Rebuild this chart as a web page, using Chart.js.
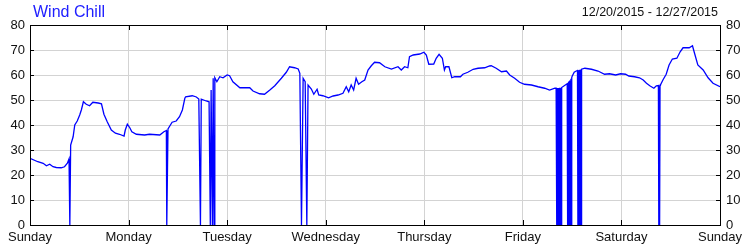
<!DOCTYPE html>
<html>
<head>
<meta charset="utf-8">
<script src="https://cdn.jsdelivr.net/npm/chart.js@4.4.1/dist/chart.umd.min.js"></script>
<style>
  body { margin: 0; background: #fff; }
  #wrap { position: relative; width: 750px; height: 250px; }
  #title { position: absolute; left: 33px; top: 4px; font: 16px "Liberation Sans", Arial, sans-serif; line-height: 16px; color: #2020ff; }
  #range { position: absolute; right: 32px; top: 6px; font: 12.5px "Liberation Sans", Arial, sans-serif; line-height: 13px; color: #111; }
</style>
</head>
<body>
<div id="wrap">
  <canvas id="myChart" width="750" height="250"></canvas>
  <div id="title">Wind Chill</div>
  <div id="range">12/20/2015 - 12/27/2015</div>
</div>
<script>
const dayLabels = ["Sunday", "Monday", "Tuesday", "Wednesday", "Thursday", "Friday", "Saturday", "Sunday"];
const yTicks = [0, 10, 20, 30, 40, 50, 60, 70, 80];

// hours since Sunday 00:00
const hours = [
  0.0, 1.9, 3.2, 4.0, 4.8, 5.6, 6.4, 7.6, 8.4, 9.1, 9.5, 9.7, 9.9, 10.5, 10.9, 11.5, 12.1, 12.5, 13.0, 13.7,
  14.5, 15.3, 16.6, 17.4, 18.0, 18.8, 19.8, 20.8, 21.8, 22.9, 23.2, 23.7, 24.3, 24.8, 25.9, 27.9, 29.1, 31.6, 32.6, 33.2,
  33.3, 33.6, 34.6, 35.6, 36.4, 37.1, 37.7, 37.9, 39.5, 40.5, 41.1, 41.5, 41.7, 42.9, 43.6, 43.9, 44.1, 44.4, 44.6, 44.8,
  45.0, 45.5, 46.2, 47.0, 48.0, 48.6, 49.4, 51.1, 53.5, 54.3, 55.9, 57.1, 58.4, 59.6, 61.2, 62.4, 63.2, 64.4, 65.3, 65.7,
  66.1, 66.5, 67.0, 67.4, 67.7, 68.5, 69.1, 69.9, 70.3, 71.3, 72.7, 73.8, 75.0, 76.2, 77.0, 77.6, 78.2, 78.8, 79.4, 80.0,
  80.8, 81.5, 82.3, 83.1, 83.9, 85.1, 86.4, 88.0, 89.6, 90.4, 91.2, 92.0, 92.4, 93.3, 94.9, 95.9, 96.5, 97.1, 98.3, 98.9,
  99.6, 100.4, 100.9, 101.2, 102.0, 102.7, 103.4, 104.8, 105.4, 106.6, 107.9, 109.1, 110.7, 111.9, 112.3, 113.5, 114.8, 116.0, 116.8, 118.0,
  119.2, 120.4, 122.1, 123.7, 125.3, 126.5, 127.8,
  128.1, 128.2, 128.3, 128.4, 128.5, 128.6, 128.7, 128.8, 128.9, 129.0, 129.1, 129.2, 129.3, 129.4, 129.5,
  130.6, 130.8, 130.9, 131.0, 131.1, 131.2, 131.3, 131.4, 131.5, 131.7, 131.8, 131.9, 132.0,
  132.5, 133.0, 133.3, 133.4, 133.5, 133.6, 133.7, 133.8, 133.9, 134.0, 134.1, 134.2, 134.3,
  135.1, 136.7, 138.3, 139.9, 141.1,
  142.6, 143.8, 145.0, 145.8, 147.2, 148.4, 149.3, 150.1, 150.9, 151.9, 152.5, 153.0, 153.1, 153.2, 153.3, 153.4, 153.5, 154.1, 154.9, 155.6, 156.4,
  157.5, 158.3, 159.0, 160.5, 161.3, 161.8, 162.6, 163.9, 165.1, 166.3, 168.0
];

// wind chill, degrees F
const windChill = [
  26.7, 25.3, 24.7, 23.7, 24.3, 23.3, 23.0, 22.9, 23.3, 24.7, 26.4, 0, 32.0, 35.3, 40.0, 41.6, 44.0, 46.0, 49.3, 48.3,
  47.7, 49.1, 48.8, 48.5, 44.3, 41.3, 38.0, 36.7, 36.3, 35.6, 38.0, 40.3, 38.9, 37.3, 36.3, 36.0, 36.3, 36.0, 37.3, 37.8,
  0, 38.4, 41.1, 41.6, 43.3, 46.0, 50.7, 51.3, 51.7, 51.2, 50.4, 0, 50.3, 49.6, 49.3, 0, 54.0, 0, 58.7, 0,
  58.9, 57.3, 59.3, 58.9, 60.0, 59.7, 57.3, 54.9, 54.9, 53.6, 52.5, 52.3, 54.0, 55.7, 58.7, 61.1, 63.3, 62.9, 62.4, 60.7,
  0, 58.7, 57.3, 0, 56.0, 54.4, 52.3, 54.3, 52.0, 51.7, 50.9, 51.6, 52.0, 52.7, 55.3, 53.3, 56.0, 54.0, 58.7, 56.3,
  57.3, 58.0, 62.0, 63.7, 65.1, 64.9, 63.3, 62.4, 63.3, 62.0, 63.3, 62.9, 67.3, 68.0, 68.4, 69.1, 68.0, 64.3, 64.4, 66.7,
  68.3, 66.7, 62.0, 63.3, 63.3, 58.9, 59.3, 59.3, 60.3, 61.1, 62.3, 62.7, 62.9, 63.6, 63.7, 62.7, 61.3, 61.6, 60.0, 58.7,
  57.1, 56.3, 56.0, 55.3, 54.7, 54.0, 54.7,
  54.7, 0, 54.8, 0, 54.8, 0, 54.8, 0, 54.9, 0, 54.9, 0, 54.9, 0, 55.0,
  56.3, 56.5, 0, 56.9, 0, 57.4, 0, 57.8, 0, 58.5, 0, 59.0, 59.5,
  61.1, 61.6, 61.8, 0, 61.9, 0, 62.0, 0, 62.1, 0, 62.2, 0, 62.3,
  62.7, 62.3, 61.6, 60.3, 60.5,
  60.0, 60.5, 60.3, 59.6, 59.3, 58.9, 58.0, 56.7, 55.7, 54.7, 55.7, 55.8, 0, 55.8, 0, 55.9, 56.0, 58.0, 60.3, 64.0, 66.4,
  66.7, 69.3, 70.9, 70.9, 71.7, 68.7, 64.0, 62.0, 58.9, 56.7, 55.3
];

const tickFont = { family: "'Liberation Sans', Arial, sans-serif", size: 13 };

// black frame with short inward tick marks on all four sides
const framePlugin = {
  id: "frame",
  afterDatasetsDraw(chart) {
    const { ctx, chartArea: a, scales } = chart;
    ctx.save();
    ctx.strokeStyle = "#000";
    ctx.lineWidth = 1;
    ctx.beginPath();
    scales.x.ticks.forEach((t) => {
      const px = Math.round(scales.x.getPixelForValue(t.value)) + 0.5;
      ctx.moveTo(px, a.top);
      ctx.lineTo(px, a.top + 5);
      ctx.moveTo(px, a.bottom);
      ctx.lineTo(px, a.bottom - 5);
    });
    scales.y.ticks.forEach((t) => {
      const py = Math.round(scales.y.getPixelForValue(t.value)) + 0.5;
      ctx.moveTo(a.left, py);
      ctx.lineTo(a.left + 4, py);
      ctx.moveTo(a.right, py);
      ctx.lineTo(a.right - 4, py);
    });
    ctx.stroke();
    ctx.strokeRect(Math.round(a.left) + 0.5, Math.round(a.top) + 0.5, Math.round(a.right - a.left), Math.round(a.bottom - a.top));
    ctx.restore();
  },
};

const yAxis = (position, padding, showGrid) => ({
  position: position,
  min: 0,
  max: 80,
  afterBuildTicks: (scale) => {
    scale.ticks = yTicks.map((v) => ({ value: v }));
  },
  afterFit: (scale) => {
    scale.width = 30;
  },
  ticks: { font: tickFont, color: "#111", padding: padding },
  grid: { display: showGrid, color: "#d3d3d3", drawTicks: false },
  border: { display: false },
});

new Chart(document.getElementById("myChart"), {
  type: "line",
  data: {
    datasets: [
      {
        label: "Wind Chill",
        data: hours.map((h, i) => ({ x: h, y: windChill[i] })),
        borderColor: "#0000ff",
        borderWidth: 1.3,
        pointRadius: 0,
        tension: 0,
        fill: false,
      },
    ],
  },
  options: {
    responsive: false,
    animation: false,
    layout: { padding: { top: 25 } },
    plugins: { legend: { display: false }, tooltip: { enabled: false } },
    scales: {
      x: {
        type: "linear",
        min: 0,
        max: 168,
        afterBuildTicks: (scale) => {
          scale.ticks = dayLabels.map((d, i) => ({ value: i * 24 }));
        },
        afterFit: (scale) => {
          scale.height = 25;
        },
        ticks: {
          font: tickFont,
          color: "#111",
          padding: 5,
          maxRotation: 0,
          autoSkip: false,
          callback: (v) => dayLabels[Math.round(v / 24)],
        },
        grid: { color: "#d3d3d3", drawTicks: false },
        border: { display: false },
      },
      y: yAxis("left", 5, true),
      y2: yAxis("right", 6, false),
    },
  },
  plugins: [framePlugin],
});
</script>
</body>
</html>
